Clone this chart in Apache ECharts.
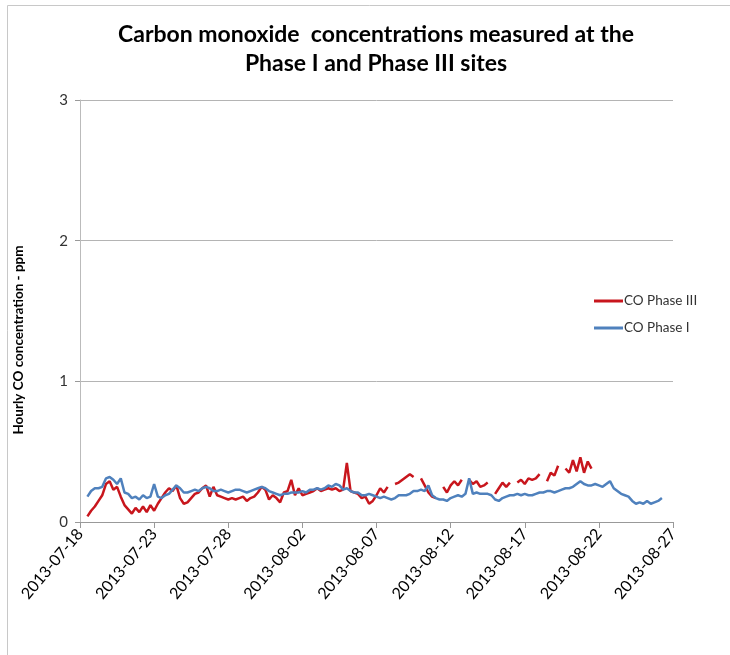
<!DOCTYPE html>
<html><head><meta charset="utf-8">
<script src="https://cdn.jsdelivr.net/npm/echarts@6/dist/echarts.min.js"></script>
<style>html,body{margin:0;padding:0;background:#fff}#c{width:730px;height:655px}</style>
</head><body><div id="c"></div>
<script>
// x tick labels (one every 5 days, axis value = days since 2013-07-18)
const xTickLabels = ['2013-07-18','2013-07-23','2013-07-28','2013-08-02','2013-08-07','2013-08-12','2013-08-17','2013-08-22','2013-08-27'];
const yTicks = [0, 1, 2, 3];
// samples every 6 hours starting 2013-07-18 12:00
const startDay = 0.5;
const stepDay = 0.25;
const seriesNames = ['CO Phase III', 'CO Phase I'];

const phaseI = [
  0.18, 0.22,
  0.24, 0.24, 0.25, 0.31,
  0.32, 0.30, 0.27, 0.31,
  0.21, 0.20, 0.17, 0.18,
  0.16, 0.19, 0.17, 0.18,
  0.27, 0.18, 0.17, 0.19,
  0.20, 0.23, 0.26, 0.24,
  0.21, 0.21, 0.22, 0.23,
  0.22, 0.24, 0.25, 0.24,
  0.22, 0.22, 0.23, 0.22,
  0.21, 0.22, 0.23, 0.23,
  0.22, 0.21, 0.22, 0.23,
  0.24, 0.25, 0.24, 0.22,
  0.21, 0.20, 0.19, 0.20,
  0.20, 0.21, 0.21, 0.21,
  0.22, 0.21, 0.23, 0.23,
  0.24, 0.23, 0.24, 0.26,
  0.25, 0.27, 0.26, 0.23,
  0.24, 0.22, 0.21, 0.21,
  0.19, 0.19, 0.20, 0.19,
  0.18, 0.17, 0.18, 0.17,
  0.16, 0.17, 0.19, 0.19,
  0.19, 0.20, 0.22, 0.22,
  0.23, 0.22, 0.26, 0.19,
  0.17, 0.16, 0.16, 0.15,
  0.17, 0.18, 0.19, 0.18,
  0.20, 0.31, 0.20, 0.21,
  0.20, 0.20, 0.20, 0.19,
  0.16, 0.15, 0.17, 0.18,
  0.19, 0.19, 0.20, 0.19,
  0.20, 0.19, 0.19, 0.20,
  0.21, 0.21, 0.22, 0.22,
  0.21, 0.22, 0.23, 0.24,
  0.24, 0.25, 0.27, 0.29,
  0.27, 0.26, 0.26, 0.27,
  0.26, 0.25, 0.27, 0.29,
  0.24, 0.22, 0.20, 0.19,
  0.18, 0.15, 0.13, 0.14,
  0.13, 0.15, 0.13, 0.14,
  0.15, 0.17
];

const phaseIII = [
  0.04, 0.08,
  0.11, 0.15, 0.19, 0.27,
  0.29, 0.23, 0.25, 0.18,
  0.12, 0.09, 0.06, 0.10,
  0.07, 0.11, 0.07, 0.12,
  0.08, 0.13, 0.17, 0.21,
  0.24, 0.22, 0.26, 0.17,
  0.13, 0.14, 0.17, 0.20,
  0.21, 0.24, 0.26, 0.18,
  0.25, 0.19, 0.18, 0.17,
  0.16, 0.17, 0.16, 0.17,
  0.18, 0.15, 0.17, 0.18,
  0.21, 0.25, 0.23, 0.16,
  0.19, 0.17, 0.14, 0.21,
  0.22, 0.30, 0.19, 0.24,
  0.19, 0.20, 0.21, 0.22,
  0.24, 0.22, 0.23, 0.24,
  0.23, 0.24, 0.22, 0.23,
  0.42, 0.22, 0.21, 0.20,
  0.17, 0.18, 0.13, 0.15,
  0.19, 0.24, 0.21, 0.25,
  null, 0.27, 0.28, 0.30,
  0.32, 0.34, 0.32, null,
  0.31, 0.26, 0.21, 0.18,
  0.17, null, 0.25, 0.21,
  0.26, 0.29, 0.26, 0.30,
  null, 0.30, 0.27, 0.29,
  0.25, 0.26, 0.28, null,
  0.20, 0.24, 0.28, 0.25,
  0.28, null, 0.28, 0.30,
  0.27, 0.31, 0.30, 0.31,
  0.34, null, 0.29, 0.35,
  0.33, 0.40, null, 0.38,
  0.35, 0.44, 0.36, 0.46,
  0.35, 0.43, 0.38
];

function toPairs(vals) { return vals.map((v, i) => [startDay + i * stepDay, v]); }

const FONT = 'Lato, "Open Sans", sans-serif';
const chart = echarts.init(document.getElementById('c'), null, {renderer: 'canvas'});
chart.setOption({
  animation: false,
  backgroundColor: '#fff',
  title: {
    text: 'Carbon monoxide  concentrations measured at the\nPhase I and Phase III sites',
    left: 371, top: 15, textAlign: 'center',
    textStyle: {fontFamily: FONT, fontSize: 23, fontWeight: 'bold', color: '#000', lineHeight: 29}
  },
  graphic: [
    {type: 'rect', shape: {x: 7.5, y: 5.5, width: 760, height: 700}, style: {fill: 'none', stroke: '#c8c8c8', lineWidth: 1}, silent: true, z: -1},
    {type: 'text', x: 19, y: 340, rotation: Math.PI / 2,
     style: {text: 'Hourly CO concentration - ppm', fontFamily: FONT, fontSize: 13.5, fontWeight: 'bold', fill: '#000', align: 'center', verticalAlign: 'middle'}}
  ],
  legend: {
    data: seriesNames,
    orient: 'vertical', left: 589, top: 289, itemGap: 13,
    itemWidth: 29, itemHeight: 3, icon: 'rect',
    textStyle: {fontFamily: FONT, fontSize: 13.5, color: '#333', padding: [0, 0, 0, -4]}
  },
  grid: {left: 80, right: 57, top: 100, bottom: 133, containLabel: false},
  xAxis: {
    type: 'value', min: 0, max: 40, interval: 5,
    axisLine: {show: true, lineStyle: {color: '#999', width: 1}},
    axisTick: {show: true, length: 6, lineStyle: {color: '#999'}},
    splitLine: {show: false},
    axisLabel: {rotate: 50, fontFamily: FONT, fontSize: 16, color: '#000', margin: 9,
      formatter: v => xTickLabels[Math.round(v / 5)] || ''}
  },
  yAxis: {
    type: 'value', min: yTicks[0], max: yTicks[yTicks.length - 1], interval: 1,
    axisLine: {show: true, lineStyle: {color: '#bbb', width: 1}},
    axisTick: {show: true, length: 5, lineStyle: {color: '#999'}},
    splitLine: {show: true, lineStyle: {color: '#b4b4b4', width: 1}},
    axisLabel: {fontFamily: FONT, fontSize: 15, color: '#333', margin: 12}
  },
  series: [
    {name: seriesNames[0], type: 'line', data: toPairs(phaseIII), showSymbol: false, connectNulls: false,
     lineStyle: {color: '#c8161d', width: 2.5}, itemStyle: {color: '#c8161d'}, z: 2},
    {name: seriesNames[1], type: 'line', data: toPairs(phaseI), showSymbol: false,
     lineStyle: {color: '#4f81bd', width: 2.5}, itemStyle: {color: '#4f81bd'}, z: 3}
  ]
});
</script>
</body></html>
